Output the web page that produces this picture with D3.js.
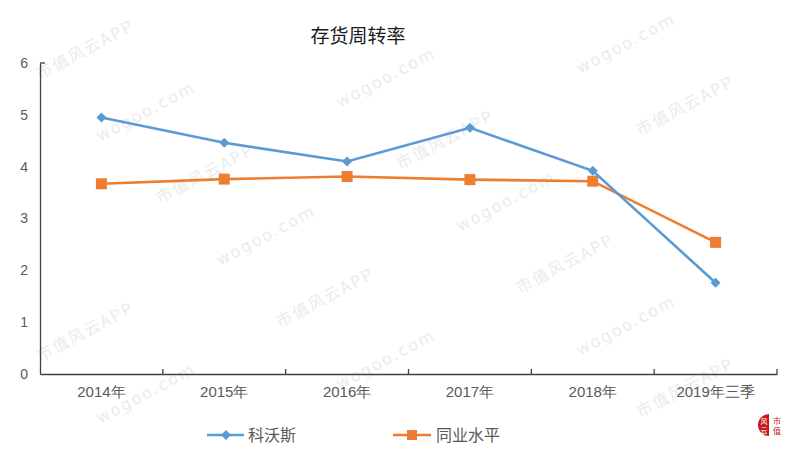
<!DOCTYPE html>
<html><head><meta charset="utf-8">
<script src="https://cdn.jsdelivr.net/npm/d3@7"></script>
<style>body{margin:0;background:#fff}svg{display:block;font-family:"Noto Sans CJK SC","Microsoft YaHei",sans-serif}</style>
</head><body>
<svg id="c" width="796" height="453"></svg>
<script>
const categories = ["2014年","2015年","2016年","2017年","2018年","2019年三季"];
const seriesNames = ["科沃斯","同业水平"];
const ecovacs = [4.95, 4.46, 4.10, 4.75, 3.92, 1.76];
const industry = [3.67, 3.76, 3.81, 3.75, 3.72, 2.54];
const yTicks = [0,1,2,3,4,5,6];
const colors = ["#5B9BD5","#ED7D31"];

const svg = d3.select("#c");
const W = 796, H = 453;
const m = {l:40, r:19, t:63, b:79};

// watermark (faint, kept inside the picture)
const wm = svg.append("g").attr("fill","#ebebeb").attr("font-size",16);
const wmTexts = ["wogoo.com","市值风云APP"];
for (let r = -6; r < 14; r++) {
  for (let c = -2; c < 8; c++) {
    const x = c*180 + r*60 - 20;
    const y = r*62 + c*(-96) + 300;
    if (x < 5 || x > W-110 || y < 62 || y > H-5) continue;
    wm.append("text").attr("transform",`translate(${x},${y}) rotate(-28)`)
      .attr("font-family", (r+c)%2===0 ? "DejaVu Sans" : "Noto Sans CJK SC")
      .attr("letter-spacing", 2)
      .text(wmTexts[((r+c)%2+2)%2]);
  }
}

const x = d3.scaleBand().domain(categories).range([m.l, W-m.r]);
const y = d3.scaleLinear().domain([0,6]).range([H-m.b, m.t]);

// title
svg.append("text").attr("x",358).attr("y",43).attr("text-anchor","middle")
  .attr("font-size",19).attr("fill","#1a1a1a").text("存货周转率");

// y axis
const yAxis = svg.append("g").attr("transform",`translate(${m.l},0)`)
  .call(d3.axisLeft(y).tickValues(yTicks).tickFormat(d3.format("d")).tickSize(0).tickPadding(12));
yAxis.select(".domain").attr("stroke","#404040").attr("stroke-width",1.3);
yAxis.selectAll("text").attr("font-size",14).attr("fill","#595959");
svg.append("line").attr("x1",m.l).attr("x2",m.l+5).attr("y1",y(6)).attr("y2",y(6)).attr("stroke","#404040").attr("stroke-width",1.3);

// x axis
const xAxis = svg.append("g").attr("transform",`translate(0,${y(0)})`)
  .call(d3.axisBottom(x).tickSize(0).tickPadding(12));
xAxis.select(".domain").attr("stroke","#404040").attr("stroke-width",1.3);
xAxis.selectAll("text").attr("font-size",15).attr("fill","#595959");
const bounds = categories.map(c => x(c)).concat([x(categories[categories.length-1]) + x.bandwidth()]);
svg.append("g").selectAll("line").data(bounds.slice(1)).join("line")
  .attr("x1",d=>d).attr("x2",d=>d).attr("y1",y(0)).attr("y2",y(0)-5)
  .attr("stroke","#404040").attr("stroke-width",1.3);

const cx = d => x(d) + x.bandwidth()/2;
const line = d3.line().x((d,i)=>cx(categories[i])).y(d=>y(d));

const diamond = (g, px, py, s, col) => g.append("path")
  .attr("d",`M${px},${py-s}L${px+s},${py}L${px},${py+s}L${px-s},${py}Z`).attr("fill",col);
const square = (g, px, py, s, col) => g.append("rect")
  .attr("x",px-s).attr("y",py-s).attr("width",2*s).attr("height",2*s).attr("fill",col);

const gO = svg.append("g");
gO.append("path").datum(industry).attr("d",line).attr("fill","none").attr("stroke",colors[1]).attr("stroke-width",2.6);
industry.forEach((v,i)=>square(gO, cx(categories[i]), y(v), 5.5, colors[1]));

const gB = svg.append("g");
gB.append("path").datum(ecovacs).attr("d",line).attr("fill","none").attr("stroke",colors[0]).attr("stroke-width",2.6);
ecovacs.forEach((v,i)=>diamond(gB, cx(categories[i]), y(v), 5, colors[0]));

// legend
const lg = svg.append("g");
const ly = 435;
lg.append("line").attr("x1",207).attr("x2",244).attr("y1",ly).attr("y2",ly).attr("stroke",colors[0]).attr("stroke-width",2.6);
diamond(lg, 226, ly, 5, colors[0]);
lg.append("text").attr("x",248).attr("y",ly+6).attr("font-size",16).attr("fill","#595959").text(seriesNames[0]);
lg.append("line").attr("x1",393).attr("x2",431).attr("y1",ly).attr("y2",ly).attr("stroke",colors[1]).attr("stroke-width",2.6);
square(lg, 412, ly, 5, colors[1]);
lg.append("text").attr("x",436).attr("y",ly+6).attr("font-size",16).attr("fill","#595959").text(seriesNames[1]);

// logo
const logo = svg.append("g");
logo.append("path").attr("d", d3.arc()({innerRadius:0, outerRadius:11, startAngle:Math.PI, endAngle:2*Math.PI})).attr("transform","translate(769,425)").attr("fill","#c8161d");
logo.append("text").attr("x",764).attr("y",424).attr("font-size",7).attr("fill","#fff").attr("text-anchor","middle").text("风");
logo.append("text").attr("x",764).attr("y",433).attr("font-size",7).attr("fill","#fff").attr("text-anchor","middle").text("云");
logo.append("text").attr("x",777).attr("y",424).attr("font-size",8).attr("fill","#c8161d").attr("text-anchor","middle").text("市");
logo.append("text").attr("x",777).attr("y",434).attr("font-size",8).attr("fill","#c8161d").attr("text-anchor","middle").text("值");
</script>
</body></html>
